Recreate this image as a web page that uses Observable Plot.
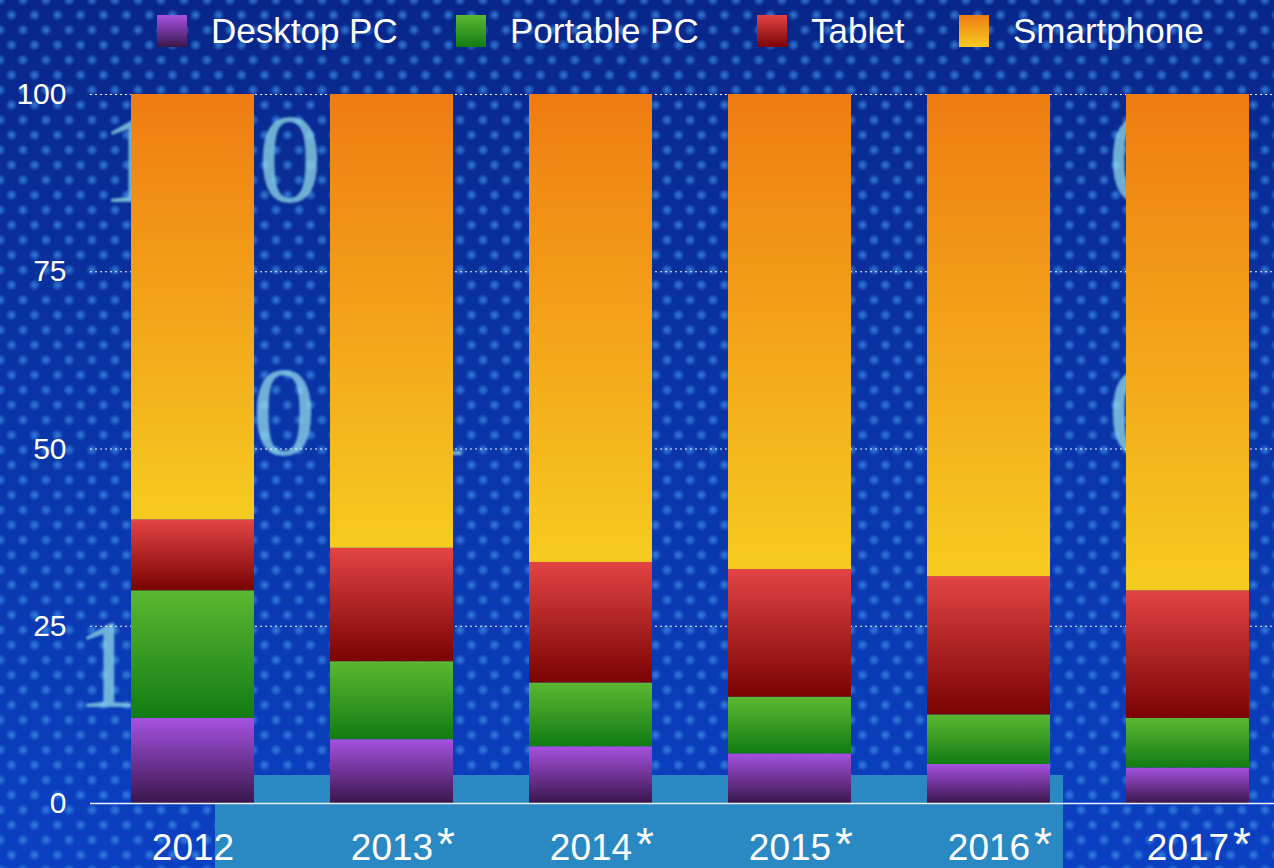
<!DOCTYPE html>
<html>
<head>
<meta charset="utf-8">
<script src="https://cdn.jsdelivr.net/npm/d3@7"></script>
<script src="https://cdn.jsdelivr.net/npm/@observablehq/plot@0.6"></script>
<style>
  html, body { margin: 0; padding: 0; }
  body {
    width: 1274px; height: 868px; overflow: hidden; position: relative;
    font-family: "Liberation Sans", Arial, Helvetica, sans-serif;
    background-color: #0b36a4;
    background-image:
      radial-gradient(circle at 50% 50%, rgba(60,140,230,0.8) 0px, rgba(60,140,230,0.45) 3px, rgba(60,140,230,0) 6px),
      radial-gradient(circle at 50% 50%, rgba(60,140,230,0.8) 0px, rgba(60,140,230,0.45) 3px, rgba(60,140,230,0) 6px),
      linear-gradient(180deg, #08268a 0%, #0a34a6 45%, #0b40c2 100%);
    background-size: 23px 30px, 23px 30px, 100% 100%;
    background-position: 0 0, 11.5px 15px, 0 0;
  }
  .glyph {
    position: absolute; font-family: "Liberation Serif", "DejaVu Serif", serif;
    font-size: 128px; line-height: 1; color: rgba(150,225,235,0.72); filter: blur(1.2px);
  }
  #band { position: absolute; left: 215px; top: 775px; width: 848px; height: 93px; background: #2a89c2; border-top-left-radius: 30px; }
  #legend { position: absolute; left: 0; top: 0; width: 1274px; height: 60px; }
  .item { position: absolute; top: 11px; display: flex; align-items: center; color: #fff; font-size: 35px; }
  .sw { width: 30px; height: 32px; margin-right: 24px; }
  #chart { position: absolute; left: 0; top: 60px; }
</style>
</head>
<body>
<div id="bg">
  <div class="glyph" style="left:100px; top:95px;">1</div>
  <div class="glyph" style="left:258px; top:95px;">0</div>
  <div class="glyph" style="left:1108px; top:95px;">0</div>
  <div class="glyph" style="left:252px; top:348px;">0</div>
  <div class="glyph" style="left:405px; top:348px;">1</div>
  <div class="glyph" style="left:1108px; top:348px;">0</div>
  <div class="glyph" style="left:75px; top:600px;">1</div>
</div>
<div id="band"></div>
<div id="legend"></div>
<div id="chart"></div>
<script>
// ---- data ----
const years = ["2012", "2013*", "2014*", "2015*", "2016*", "2017*"];
const seriesNames = ["Desktop PC", "Portable PC", "Tablet", "Smartphone"];
const desktopPC  = [12, 9, 8, 7, 5.5, 5];
const portablePC = [18, 11, 9, 8, 7, 7];
const tablet     = [10, 16, 17, 18, 19.5, 18];
const smartphone = [60, 64, 66, 67, 68, 70];
const yTicks = [0, 25, 50, 75, 100];

// gradient stops per series (top -> bottom)
const gradients = {
  "Desktop PC":  ["#a651e0", "#3a164c"],
  "Portable PC": ["#5cb832", "#117c14"],
  "Tablet":      ["#e34444", "#7a0303"],
  "Smartphone":  ["#ef7c12", "#f6cb20"]
};
const gid = s => "g-" + s.replace(/\s+/g, "");

const valuesBySeries = [desktopPC, portablePC, tablet, smartphone];
const rows = years.flatMap((yr, i) => seriesNames.map((s, j) => ({year: yr, series: s, value: valuesBySeries[j][i]})));
const starred = years.filter(y => y.endsWith("*"));

const chart = Plot.plot({
  width: 1274,
  height: 808,
  marginLeft: 90,
  marginRight: 0,
  marginTop: 34,
  marginBottom: 65,
  style: {background: "transparent", color: "white", fontFamily: "'Liberation Sans', Arial, sans-serif", overflow: "visible"},
  x: {domain: years, range: [90, 1291], paddingInner: 0.38, paddingOuter: 0.195, label: null},
  y: {domain: [0, 100], label: null},
  marks: [
    Plot.gridY(yTicks.filter(t => t > 0), {stroke: "white", strokeOpacity: 0.95, strokeWidth: 1.2, strokeDasharray: "2,3"}),
    Plot.barY(rows, {x: "year", y: "value", fill: d => `url(#${gid(d.series)})`, order: seriesNames}),
    Plot.ruleY([0], {stroke: "#e8f0ff", strokeWidth: 1.5}),
    Plot.axisY({ticks: yTicks, tickSize: 0, tickPadding: 24, fontSize: 30, fill: "white"}),
    Plot.axisX({tickSize: 0, tickPadding: 30, fontSize: 37, fill: "white", tickFormat: d => d.replace("*", "")}),
    Plot.text(starred, {x: d => d, frameAnchor: "bottom", text: () => "*", textAnchor: "start", lineAnchor: "top", dx: 45, dy: 24, fontSize: 46, fill: "white"})
  ]
});

// gradient defs
const defs = d3.select(chart).insert("defs", ":first-child");
for (const s of seriesNames) {
  const g = defs.append("linearGradient").attr("id", gid(s)).attr("x1", 0).attr("y1", 0).attr("x2", 0).attr("y2", 1);
  g.append("stop").attr("offset", "0%").attr("stop-color", gradients[s][0]);
  g.append("stop").attr("offset", "100%").attr("stop-color", gradients[s][1]);
}
document.getElementById("chart").appendChild(chart);

// legend
const legend = document.getElementById("legend");
const lefts = [157, 456, 757, 959];
seriesNames.forEach((s, i) => {
  const item = document.createElement("div");
  item.className = "item";
  item.style.left = lefts[i] + "px";
  const sw = document.createElement("div");
  sw.className = "sw";
  sw.style.background = `linear-gradient(180deg, ${gradients[s][0]}, ${gradients[s][1]})`;
  const tx = document.createElement("span");
  tx.textContent = s;
  item.appendChild(sw); item.appendChild(tx);
  legend.appendChild(item);
});
</script>
</body>
</html>
